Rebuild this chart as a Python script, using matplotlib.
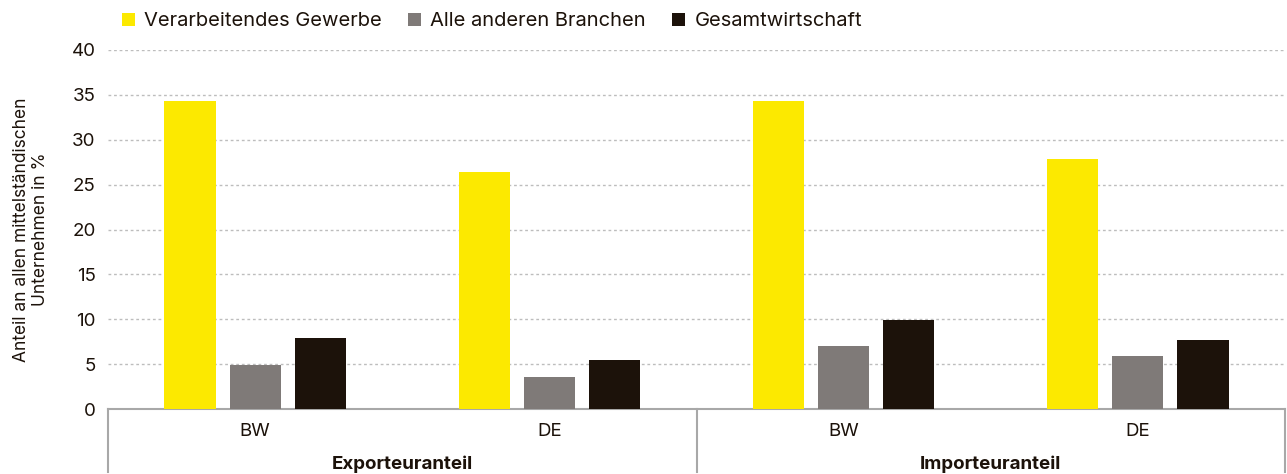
import matplotlib.pyplot as plt
import matplotlib.transforms as mtransforms
from matplotlib.patches import Patch
import numpy as np

plt.rcParams['font.family'] = ['Inter', 'DejaVu Sans']

# data
gruppen = ['Exporteuranteil', 'Importeuranteil']
regionen = ['BW', 'DE', 'BW', 'DE']
serien = ['Verarbeitendes Gewerbe', 'Alle anderen Branchen', 'Gesamtwirtschaft']
verarbeitend = [34.3, 26.4, 34.3, 27.9]
andere = [4.9, 3.6, 7.0, 5.9]
gesamt = [7.9, 5.5, 9.9, 7.7]

farben = ['#fce900', '#7f7a78', '#1c120a']
textfarbe = '#1c120a'
linienfarbe = '#a8a8a8'

fig = plt.figure(figsize=(12.87, 4.74), dpi=100)
ax = fig.add_axes([108 / 1287, 65 / 474, 1177 / 1287, 359 / 474])

x = np.arange(len(regionen))
breite = 0.174
abstand = 0.221
for i, (werte, farbe) in enumerate(zip([verarbeitend, andere, gesamt], farben)):
    ax.bar(x + (i - 1) * abstand, werte, breite, color=farbe, zorder=3)

ax.set_xlim(-0.5, len(regionen) - 0.5)
ax.set_ylim(0, 40)
ax.set_yticks(range(0, 41, 5))
ax.yaxis.grid(True, linestyle=(0, (2, 2)), color='#bdbdbd', linewidth=1, zorder=0)
ax.tick_params(axis='y', length=0, pad=9, labelsize=13.5, labelcolor=textfarbe)
ax.set_xticks(x)
ax.set_xticklabels(regionen)
ax.tick_params(axis='x', length=0, pad=10, labelsize=13.5, labelcolor=textfarbe)

for s in ['top', 'right', 'left']:
    ax.spines[s].set_visible(False)
ax.spines['bottom'].set_color(linienfarbe)
ax.spines['bottom'].set_linewidth(1.5)

# gruppen-trenner und gruppenbeschriftung
trans = mtransforms.blended_transform_factory(ax.transAxes, ax.transAxes)
for xp in [0, 0.5, 1]:
    ax.plot([xp, xp], [0, -0.175], color=linienfarbe, linewidth=1.5,
            transform=trans, clip_on=False)
for j, g in enumerate(gruppen):
    ax.text(0.25 + 0.5 * j, -0.155, g, transform=trans, ha='center', va='center',
            fontsize=13.5, fontweight='bold', color=textfarbe)

ax.set_ylabel('Anteil an allen mittelständischen\nUnternehmen in %', fontsize=12.5,
              color=textfarbe, labelpad=16, linespacing=1.2)

handles = [Patch(facecolor=f, edgecolor='none') for f in farben]
fig.legend(handles, serien, loc='upper left', bbox_to_anchor=(104 / 1287, 1.012),
           ncol=3, frameon=False, fontsize=14.5, handlelength=0.65, handleheight=0.65,
           handletextpad=0.45, columnspacing=1.3, labelcolor=textfarbe)

fig.savefig('out.png', dpi=100)
